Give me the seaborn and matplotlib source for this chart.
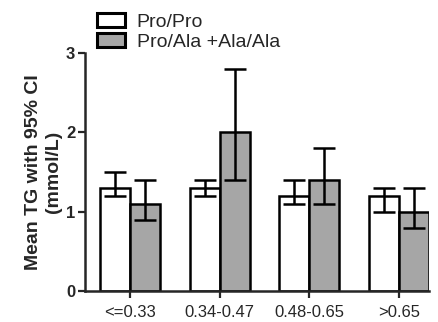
import pandas as pd
import matplotlib
matplotlib.use("Agg")
import matplotlib.pyplot as plt
import seaborn as sns

groups = ['<=0.33', '0.34-0.47', '0.48-0.65', '>0.65']
genotypes = ['Pro/Pro', 'Pro/Ala +Ala/Ala']
mean_propro = [1.3, 1.3, 1.2, 1.2]
low_propro = [1.2, 1.2, 1.1, 1.0]
high_propro = [1.5, 1.4, 1.4, 1.3]
mean_ala = [1.1, 2.0, 1.4, 1.0]
low_ala = [0.9, 1.4, 1.1, 0.8]
high_ala = [1.4, 2.8, 1.8, 1.3]

data = pd.DataFrame({
    'group': groups * 2,
    'genotype': [genotypes[0]] * 4 + [genotypes[1]] * 4,
    'tg': mean_propro + mean_ala,
    'low': low_propro + low_ala,
    'high': high_propro + high_ala,
})

sns.set_style("ticks")
plt.rcParams['font.family'] = ['Liberation Sans', 'DejaVu Sans']

fig, ax = plt.subplots(figsize=(4.38, 3.22), dpi=100)
fig.subplots_adjust(left=85/438, right=429/438, bottom=1-291/322, top=1-53/322)

sns.barplot(data=data, x='group', y='tg', hue='genotype', hue_order=genotypes,
            palette=['white', '#a6a6a6'], width=2/3, edgecolor='black',
            linewidth=1.8, errorbar=None, ax=ax, legend=True)

# seaborn draws bars hue by hue, same order as the data rows
bars = [p for p in ax.patches if p.get_height() > 0][:8]
for p, (_, row) in zip(bars, data.iterrows()):
    cx = p.get_x() + p.get_width() / 2
    ax.errorbar(cx, row['tg'], yerr=[[row['tg'] - row['low']], [row['high'] - row['tg']]],
                fmt='none', ecolor='black', elinewidth=1.8, capsize=8, capthick=1.8, zorder=5)

ax.set_xlim(-0.5, 3 + 1/3)
ax.set_ylim(0, 3)
ax.set_yticks([0, 1, 2, 3])
ax.set_yticklabels(['0', '1', '2', '3'], fontweight='bold', fontsize=12)
ax.tick_params(axis='x', labelsize=12, length=5, width=1.6, pad=5)
ax.tick_params(axis='y', length=5, width=1.6, pad=2)
ax.set_xlabel('')
ax.set_ylabel('Mean TG with 95% CI\n(mmol/L)', fontweight='bold', fontsize=14,
              labelpad=3, linespacing=1.2)
for s in ['left', 'bottom']:
    ax.spines[s].set_linewidth(1.8)
sns.despine(ax=ax)

leg = ax.legend(loc='lower left', bbox_to_anchor=(10/344, 1.0), frameon=False,
                fontsize=14, handlelength=1.45, handleheight=0.72, handletextpad=0.6,
                labelspacing=0.12, borderaxespad=0, borderpad=0.1)
for h in leg.legend_handles:
    h.set_linewidth(2.2)

fig.savefig('out.png', dpi=100)
